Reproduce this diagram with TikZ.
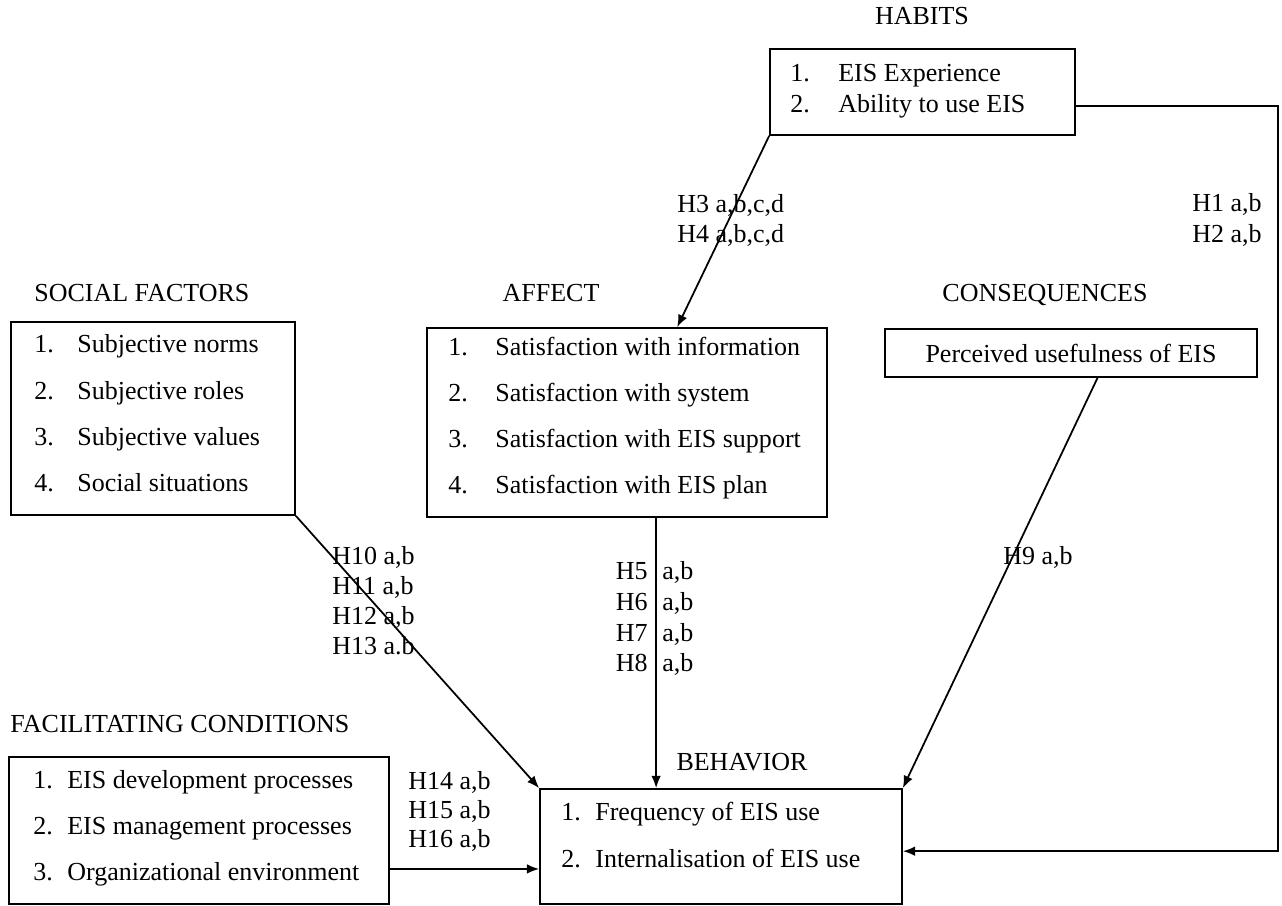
\documentclass[tikz,border=0pt]{standalone}
\usepackage{fontspec}
\setmainfont{Liberation Serif}
\usetikzlibrary{positioning,arrows.meta,calc}

\begin{document}
\begin{tikzpicture}[x=0.02cm, y=-0.02cm, font=\fontsize{14.8}{17}\selectfont,
  box/.style={draw, line width=1pt, inner sep=0pt},
  txt/.style={inner sep=0pt, anchor=mid west},
  ttl/.style={inner sep=0pt, anchor=mid},
  arr/.style={line width=1pt, -{Latex[length=7pt,width=5.5pt]}}]

\useasboundingbox (0,0) rectangle (1282,906);

% Boxes
\node[box, minimum width=6.10cm, minimum height=1.72cm] (habits) at (922.5,92) {};
\node[box, minimum width=5.68cm, minimum height=3.86cm] (social) at (153,418.5) {};
\node[box, minimum width=8.00cm, minimum height=3.78cm] (affect) at (627,422.5) {};
\node[box, minimum width=7.44cm, minimum height=0.96cm] (conseq) at (1071,353) {Perceived usefulness of EIS};
\node[box, minimum width=7.60cm, minimum height=2.94cm] (facil) at (199,830.5) {};
\node[box, minimum width=7.24cm, minimum height=2.30cm] (behav) at (721,846.5) {};

% Titles
\node[ttl] (habitsT) at (922,20) {HABITS};
\node[txt] (socialT) at (34,297) {SOCIAL FACTORS};
\node[ttl] (affectT) at (551,297) {AFFECT};
\node[ttl] (conseqT) at (1045,297) {CONSEQUENCES};
\node[txt] (facilT) at (10,728) {FACILITATING CONDITIONS};
\node[ttl] (behavT) at (742,766) {BEHAVIOR};

% Items in the boxes
\foreach \nm/\lbl/\yy [count=\i] in {1./EIS Experience/77, 2./Ability to use EIS/108} {
  \node[txt] (hab\i n) at (790,\yy) {\nm};
  \node[txt] (hab\i) at (838,\yy) {\lbl};
}
\foreach \nm/\lbl/\yy [count=\i] in {1./Subjective norms/348, 2./Subjective roles/395,
    3./Subjective values/441, 4./Social situations/487} {
  \node[txt] (soc\i n) at (34,\yy) {\nm};
  \node[txt] (soc\i) at (77,\yy) {\lbl};
}
\foreach \nm/\lbl/\yy [count=\i] in {1./Satisfaction with information/351, 2./Satisfaction with system/397,
    3./Satisfaction with EIS support/443, 4./Satisfaction with EIS plan/489} {
  \node[txt] (aff\i n) at (448,\yy) {\nm};
  \node[txt] (aff\i) at (495,\yy) {\lbl};
}
\foreach \nm/\lbl/\yy [count=\i] in {1./EIS development processes/784, 2./EIS management processes/830,
    3./Organizational environment/876} {
  \node[txt] (fac\i n) at (33,\yy) {\nm};
  \node[txt] (fac\i) at (67,\yy) {\lbl};
}
\foreach \nm/\lbl/\yy [count=\i] in {1./Frequency of EIS use/816, 2./Internalisation of EIS use/863} {
  \node[txt] (beh\i n) at (561,\yy) {\nm};
  \node[txt] (beh\i) at (595,\yy) {\lbl};
}

% Hypothesis labels
\node[inner sep=0pt, anchor=mid east] (h1) at (1262,207) {H1 a,b};
\node[inner sep=0pt, anchor=mid east] (h2) at (1262,238) {H2 a,b};
\node[txt] (h3) at (677,208) {H3 a,b,c,d};
\node[txt] (h4) at (677,238) {H4 a,b,c,d};
\foreach \lbl/\yy [count=\i from 5] in {H5/575, H6/606, H7/637, H8/667} {
  \node[inner sep=0pt, anchor=mid east] (h\i) at (648,\yy) {\lbl};
  \node[txt] (h\i ab) at (662,\yy) {a,b};
}
\node[txt] (h9) at (1003,560) {H9 a,b};
\foreach \lbl/\yy [count=\i from 10] in {H10 a{,}b/560, H11 a{,}b/590, H12 a{,}b/620, H13 a.b/650} {
  \node[txt] (h\i) at (332,\yy) {\lbl};
}
\foreach \lbl/\yy [count=\i from 14] in {H14 a{,}b/785, H15 a{,}b/814, H16 a{,}b/843} {
  \node[txt] (h\i) at (408,\yy) {\lbl};
}

% Connector end points on the box edges
\coordinate (habout) at ($(habits.north east)!0.66!(habits.south east)$);
\coordinate (rail) at (1278,0);
\coordinate (affin) at ($(affect.north west)!0.625!(affect.north east)$);
\coordinate (affout) at ($(affect.south west)!0.5725!(affect.south east)$);
\coordinate (cqout) at ($(conseq.south west)!0.571!(conseq.south east)$);
\coordinate (behin) at ($(behav.north east)!0.54!(behav.south east)$);
\coordinate (facout) at ($(facil.north east)!0.7585!(facil.south east)$);

% Edges
\draw[arr] (habits.south west) -- (affin);
\draw[arr] (habout) -- (habout -| rail) -- (rail |- behin) -- (behin);
\draw[arr] (social.south east) -- (behav.north west);
\draw[arr] (affout) -- (affout |- behav.north);
\draw[arr] (cqout) -- (behav.north east);
\draw[arr] (facout) -- (facout -| behav.west);
\end{tikzpicture}
\end{document}
